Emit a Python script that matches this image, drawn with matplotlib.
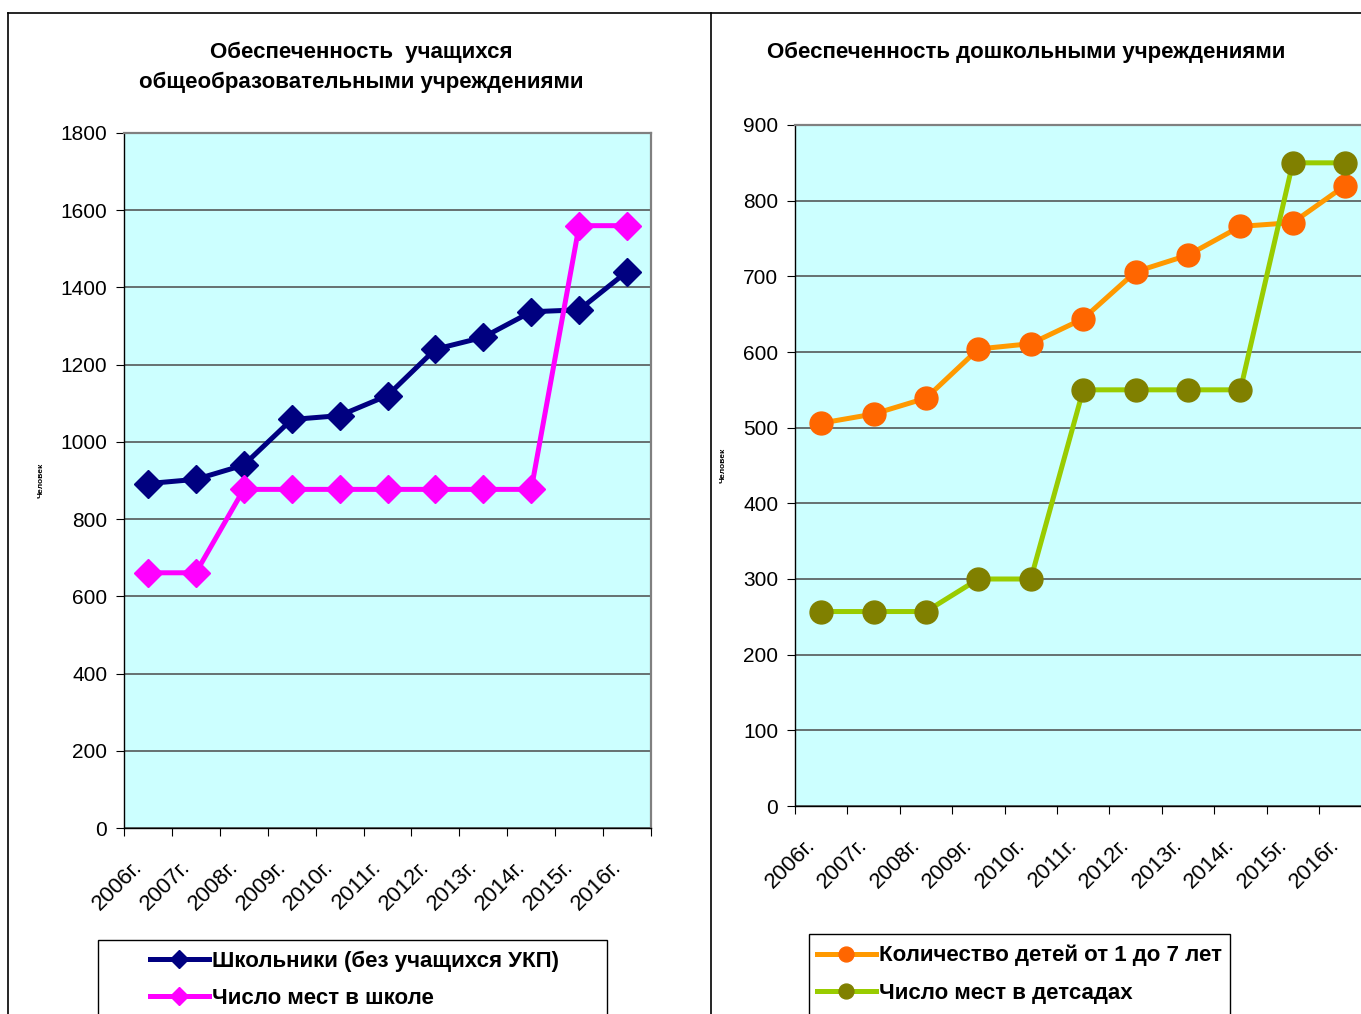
import numpy as np
import matplotlib
matplotlib.use("Agg")
import matplotlib.pyplot as plt
from matplotlib.lines import Line2D
from matplotlib.patches import Rectangle

years = ["2006г.", "2007г.", "2008г.", "2009г.", "2010г.", "2011г.",
         "2012г.", "2013г.", "2014г.", "2015г.", "2016г."]

# school chart
pupils = [892, 903, 940, 1058, 1068, 1120, 1240, 1271, 1337, 1342, 1441]
school_places = [661, 661, 877, 877, 877, 877, 877, 877, 877, 1560, 1560]

# kindergarten chart
children = [506, 518, 539, 604, 611, 644, 706, 728, 766, 771, 820]
kg_places = [257, 257, 257, 300, 300, 550, 550, 550, 550, 850, 850]

plt.rcParams["font.family"] = ["Liberation Sans", "DejaVu Sans"]

W, H = 1361, 1014
fig = plt.figure(figsize=(W / 100, H / 100), dpi=100)


def fx(px):
    return px / W


def fy(py):
    return 1 - py / H


def style_axes(ax, ymax, ystep):
    n = len(years)
    x = np.arange(n)
    ax.set_facecolor("#CCFFFF")
    ax.set_xlim(-0.5, n - 0.5)
    ax.set_ylim(0, ymax)
    ax.set_yticks(np.arange(0, ymax + 1, ystep))
    ax.yaxis.grid(True, color="#4a4a4a", lw=1.1)
    ax.set_axisbelow(True)
    # ticks sit between the categories, labels under the category centres
    ax.set_xticks(np.arange(-0.5, n, 1))
    ax.set_xticklabels([])
    for i, lab in enumerate(years):
        ax.annotate(lab, xy=(i, 0), xycoords=("data", "axes fraction"),
                    xytext=(-6.5, -26), textcoords="offset points",
                    rotation=45, ha="right", va="center",
                    rotation_mode="anchor", fontsize=16)
    ax.tick_params(axis="x", length=6, direction="out")
    ax.tick_params(axis="y", length=6, direction="out", labelsize=15, pad=6)
    for s in ("top", "right"):
        ax.spines[s].set_color("#808080")
        ax.spines[s].set_linewidth(1.6)
    for s in ("left", "bottom"):
        ax.spines[s].set_color("black")
        ax.spines[s].set_linewidth(1.0)
    return x


# left panel
ax1 = fig.add_axes([fx(124), fy(828), fx(651 - 124), (828 - 133) / H])
x = style_axes(ax1, 1800, 200)
l1, = ax1.plot(x, pupils, color="#000080", lw=3.6, marker="D", ms=14,
               mfc="#000080", mec="#000080", label="Школьники (без учащихся УКП)")
l2, = ax1.plot(x, school_places, color="#FF00FF", lw=3.6, marker="D", ms=14,
               mfc="#FF00FF", mec="#FF00FF", label="Число мест в школе")
fig.text(fx(41), fy(480), "Человек", rotation=90, fontsize=6,
         fontweight="bold", ha="center", va="center")
fig.text(fx(361), fy(52), "Обеспеченность  учащихся", fontsize=16,
         fontweight="bold", ha="center", va="center")
fig.text(fx(361), fy(82), "общеобразовательными учреждениями", fontsize=16,
         fontweight="bold", ha="center", va="center")

# right panel
ax2 = fig.add_axes([fx(795), fy(806), 11 * 52.4 / W, (806 - 125) / H])
x = style_axes(ax2, 900, 100)
l3, = ax2.plot(x, children, color="#FF9900", lw=3.6, marker="o", ms=16.5,
               mfc="#FF6600", mec="#FF6600", label="Количество детей от 1 до 7 лет")
l4, = ax2.plot(x, kg_places, color="#99CC00", lw=3.6, marker="o", ms=16.5,
               mfc="#808000", mec="#808000", label="Число мест в детсадах")
fig.text(fx(723), fy(465), "Человек", rotation=90, fontsize=6,
         fontweight="bold", ha="center", va="center")
fig.text(fx(1026), fy(52), "Обеспеченность дошкольными учреждениями",
         fontsize=16, fontweight="bold", ha="center", va="center")

# legends with hand drawn boxes running off the bottom edge
fig.add_artist(Rectangle((fx(98), fy(1030)), fx(607 - 98), (1030 - 940) / H,
                         transform=fig.transFigure, fc="white", ec="black", lw=1))
fig.legend(handles=[l1, l2], loc="upper left", bbox_to_anchor=(fx(130), fy(931)),
           frameon=False, numpoints=1, handlelength=2.65, handletextpad=0.15,
           labelspacing=0.72, prop={"size": 16, "weight": "bold"},
           markerscale=0.65)
fig.add_artist(Rectangle((fx(809), fy(1030)), fx(1230 - 809), (1030 - 934) / H,
                         transform=fig.transFigure, fc="white", ec="black", lw=1))
fig.legend(handles=[l3, l4], loc="upper left", bbox_to_anchor=(fx(797), fy(925)),
           frameon=False, numpoints=1, handlelength=2.65, handletextpad=0.15,
           labelspacing=0.72, prop={"size": 16, "weight": "bold"},
           markerscale=0.65)

# outer frame and divider
fig.add_artist(Line2D([fx(8), 1], [fy(13), fy(13)], transform=fig.transFigure,
                      color="black", lw=1.2))
fig.add_artist(Line2D([fx(8), fx(8)], [0, fy(13)], transform=fig.transFigure,
                      color="black", lw=1.2))
fig.add_artist(Line2D([fx(711), fx(711)], [0, fy(13)], transform=fig.transFigure,
                      color="black", lw=1.2))

fig.savefig("out.png", dpi=100, facecolor="white")
